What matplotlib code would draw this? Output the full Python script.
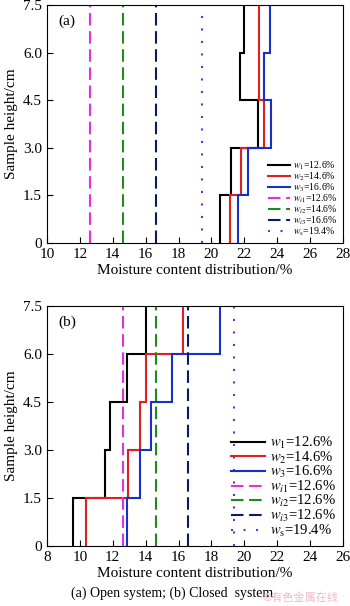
import matplotlib
matplotlib.use("Agg")
import matplotlib.pyplot as plt
import numpy as np

plt.rcParams['font.family'] = ['Liberation Serif', 'DejaVu Serif']
plt.rcParams['mathtext.fontset'] = 'stix'

# heights of the layer boundaries (cm)
edges = [0, 1.5, 3.0, 4.5, 6.0, 7.5]

# (a) open system, moisture per layer (%)
a_w1 = [20.5, 21.2, 22.85, 21.75, 21.95]
a_w2 = [21.15, 21.8, 23.2, 22.9, 22.9]
a_w3 = [21.6, 22.2, 23.6, 23.2, 23.55]

# (b) closed system
b_w1 = [9.6, 11.5, 11.85, 12.85, 14.0]
b_w2 = [10.4, 12.9, 13.65, 14.05, 16.25]
b_w3 = [12.85, 13.65, 14.35, 15.6, 18.5]

init_vals = [12.6, 14.6, 16.6]
sat_val = 19.4

a_labels = [r'$w_1$=12.6%', r'$w_2$=14.6%', r'$w_3$=16.6%',
            r'$w_{i1}$=12.6%', r'$w_{i2}$=14.6%', r'$w_{i3}$=16.6%', r'$w_{\rm s}$=19.4%']
b_labels = [r'$w_1$=12.6%', r'$w_2$=14.6%', r'$w_3$=16.6%',
            r'$w_{i1}$=12.6%', r'$w_{i2}$=12.6%', r'$w_{i3}$=12.6%', r'$w_{\rm s}$=19.4%']

step_colors = ['black', '#e02020', '#1a2fc8']
init_colors = ['#e030e0', '#1f8a1f', '#0a1a6a']
sat_color = '#6a2fd6'

fig = plt.figure(figsize=(3.5, 6.06), dpi=100)
ax_a = fig.add_axes([47 / 350, 1 - 243 / 606, 296 / 350, 238 / 606])
ax_b = fig.add_axes([47 / 350, 1 - 546 / 606, 296 / 350, 240 / 606])


def draw(ax, series, labels, xlim, leg_size, leg_space, tag):
    for vals, c, lab in zip(series, step_colors, labels[:3]):
        ax.stairs(vals, edges, orientation='horizontal', baseline=None,
                  color=c, lw=1.5, label=lab)
    for v, c, lab in zip(init_vals, init_colors, labels[3:6]):
        ax.axvline(v, color=c, lw=1.5, ls=(0, (6, 2.7)), label=lab)
    ax.axvline(sat_val, color=sat_color, lw=1.5, ls=(0, (1, 5)), label=labels[6])
    ax.set_xlim(*xlim)
    ax.set_ylim(0, 7.5)
    ax.set_xticks(np.arange(xlim[0], xlim[1] + 1, 2))
    ax.set_yticks(edges)
    ax.set_yticklabels(['0', '1.5', '3.0', '4.5', '6.0', '7.5'])
    ax.tick_params(direction='in', labelsize=11, length=4)
    ax.set_xlabel('Moisture content distribution/%', fontsize=11, labelpad=2)
    ax.set_ylabel('Sample height/cm', fontsize=11, labelpad=4)
    ax.text(0.04, 0.96, tag, transform=ax.transAxes, fontsize=11, va='top')
    ax.legend(loc='lower right', fontsize=leg_size, frameon=False,
              handlelength=2.3, labelspacing=leg_space, handletextpad=0.35,
              borderaxespad=0.3, borderpad=0.2)


draw(ax_a, [a_w1, a_w2, a_w3], a_labels, (10, 28), 7, -0.15, '(a)')
draw(ax_b, [b_w1, b_w2, b_w3], b_labels, (8, 26), 10.5, -0.1, '(b)')

fig.text(172 / 350, 1 - 593 / 606, '(a) Open system; (b) Closed  system',
         ha='center', va='center', fontsize=10)
fig.text(300 / 350, 1 - 598 / 606, '©有色金属在线', ha='center', va='center',
         fontsize=8, color='#f4b8c8', family=['Noto Sans CJK SC', 'DejaVu Sans'])

fig.savefig('out.png', dpi=100)
